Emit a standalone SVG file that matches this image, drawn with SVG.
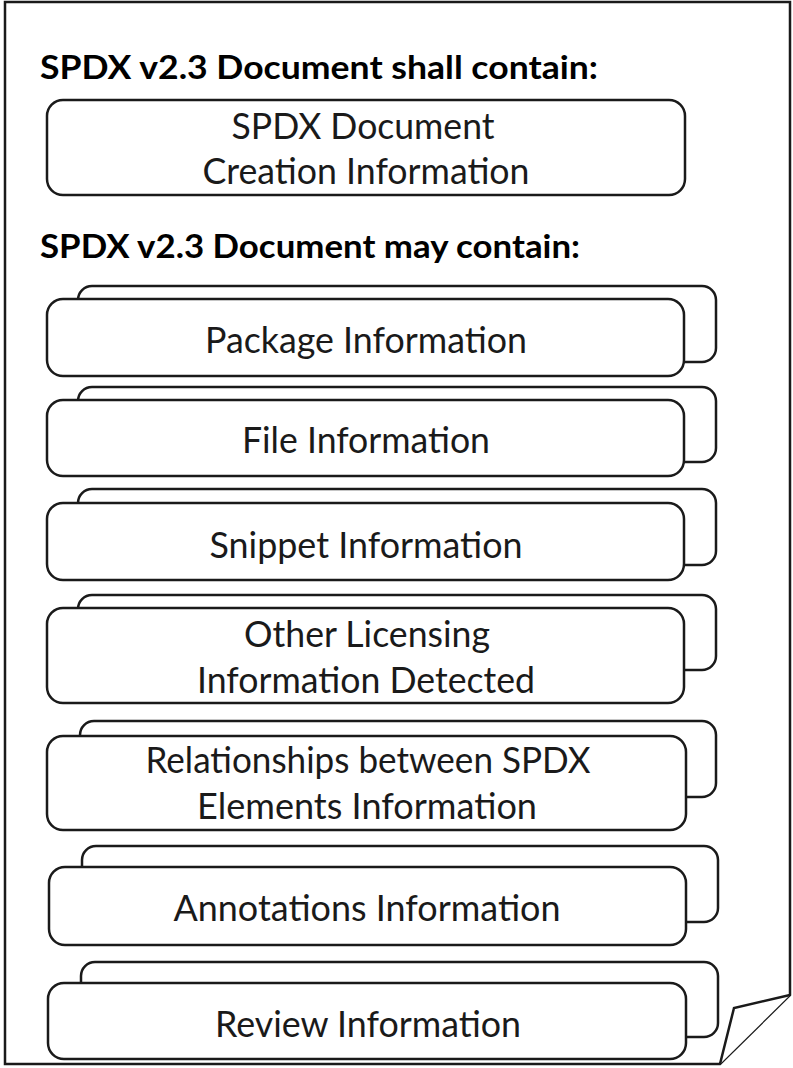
<svg xmlns="http://www.w3.org/2000/svg" width="793" height="1068" viewBox="0 0 793 1068">
  <style>
    .page { fill: #ffffff; stroke: #1a1a1a; stroke-width: 2.5; stroke-linejoin: miter; }
    .box { fill: #ffffff; stroke: #1a1a1a; stroke-width: 2.5; }
    .title { font-family: Lato, "Liberation Sans", sans-serif; font-weight: bold; font-size: 32px; fill: #000000; }
    .label { font-family: Lato, "Liberation Sans", sans-serif; font-size: 36px; fill: #1a1a1a; text-anchor: middle; }
  </style>

  <!-- document sheet with folded bottom-right corner -->
  <g id="page">
    <rect x="0" y="0" width="793" height="1068" fill="#ffffff"/>
    <path class="page" d="M5,2 H790 V995 L720,1064 H5 Z"/>
    <path class="page" d="M720,1064 L734,1008 L790,995"/>
  </g>

  <text class="title" x="40" y="79" textLength="558" lengthAdjust="spacingAndGlyphs">SPDX v2.3 Document shall contain:</text>

  <g id="creation-info">
    <rect class="box" x="47" y="100" width="638" height="95" rx="16"/>
    <text class="label" x="363" y="139" textLength="263" lengthAdjust="spacingAndGlyphs">SPDX Document</text>
    <text class="label" x="366" y="184" textLength="327" lengthAdjust="spacingAndGlyphs">Creation Information</text>
  </g>

  <text class="title" x="40" y="258" textLength="540" lengthAdjust="spacingAndGlyphs">SPDX v2.3 Document may contain:</text>

  <g id="package-info">
    <rect class="box" x="78" y="286" width="638" height="76" rx="14"/>
    <rect class="box" x="47" y="299" width="637" height="77" rx="16"/>
    <text class="label" x="366" y="353" textLength="322" lengthAdjust="spacingAndGlyphs">Package Information</text>
  </g>

  <g id="file-info">
    <rect class="box" x="78" y="387" width="638" height="75" rx="14"/>
    <rect class="box" x="47" y="400" width="637" height="76" rx="16"/>
    <text class="label" x="366" y="453" textLength="248" lengthAdjust="spacingAndGlyphs">File Information</text>
  </g>

  <g id="snippet-info">
    <rect class="box" x="78" y="489" width="638" height="76" rx="14"/>
    <rect class="box" x="47" y="503" width="637" height="77" rx="16"/>
    <text class="label" x="366" y="558" textLength="313" lengthAdjust="spacingAndGlyphs">Snippet Information</text>
  </g>

  <g id="other-licensing-info">
    <rect class="box" x="78" y="595" width="638" height="75" rx="14"/>
    <rect class="box" x="47" y="608" width="637" height="95" rx="16"/>
    <text class="label" x="367" y="647" textLength="246" lengthAdjust="spacingAndGlyphs">Other Licensing</text>
    <text class="label" x="366" y="693" textLength="338" lengthAdjust="spacingAndGlyphs">Information Detected</text>
  </g>

  <g id="relationships-info">
    <rect class="box" x="80" y="721" width="636" height="76" rx="14"/>
    <rect class="box" x="47" y="736" width="639" height="94" rx="16"/>
    <text class="label" x="368" y="773" textLength="445" lengthAdjust="spacingAndGlyphs">Relationships between SPDX</text>
    <text class="label" x="367" y="819" textLength="340" lengthAdjust="spacingAndGlyphs">Elements Information</text>
  </g>

  <g id="annotations-info">
    <rect class="box" x="82" y="846" width="636" height="76" rx="14"/>
    <rect class="box" x="49" y="867" width="637" height="78" rx="16"/>
    <text class="label" x="367" y="921" textLength="387" lengthAdjust="spacingAndGlyphs">Annotations Information</text>
  </g>

  <g id="review-info">
    <rect class="box" x="81" y="962" width="637" height="75" rx="14"/>
    <rect class="box" x="48" y="983" width="638" height="76" rx="16"/>
    <text class="label" x="368" y="1037" textLength="306" lengthAdjust="spacingAndGlyphs">Review Information</text>
  </g>
</svg>
